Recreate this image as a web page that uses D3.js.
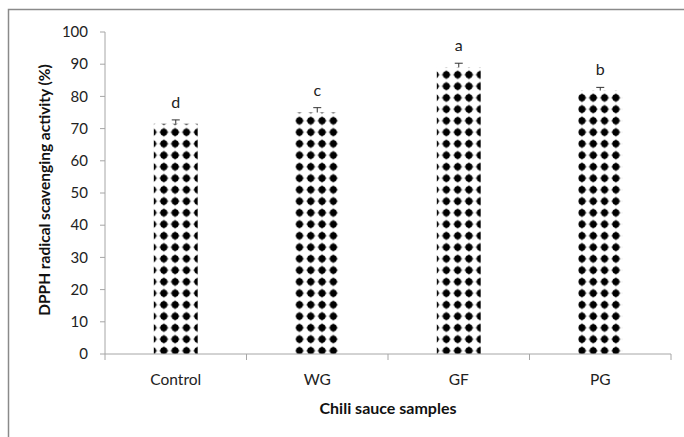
<!DOCTYPE html>
<html>
<head>
<meta charset="utf-8">
<script src="https://cdn.jsdelivr.net/npm/d3@7.9.0/dist/d3.min.js"></script>
<style>
  body { margin: 0; background: #fff; }
  text { font-family: Lato, "Open Sans", sans-serif; }
</style>
</head>
<body>
<svg id="chart" width="684" height="437"></svg>
<script>
// data
const samples = ['Control', 'WG', 'GF', 'PG'];
const activity = [71.5, 75.0, 89.0, 81.8];
const errors = [1.2, 1.5, 1.3, 1.0];
const letters = ['d', 'c', 'a', 'b'];
const yTicks = [0, 10, 20, 30, 40, 50, 60, 70, 80, 90, 100];

const svg = d3.select('#chart');

// outer frame (runs off the right / bottom edge like the source)
svg.append('rect')
  .attr('x', 8.5).attr('y', 9.5)
  .attr('width', 700).attr('height', 460)
  .attr('fill', 'none').attr('stroke', '#8a8a8a').attr('stroke-width', 1.5);

const plotLeft = 105, plotRight = 671, plotTop = 32, plotBottom = 354;

let x = d3.scaleBand().domain(samples).range([plotLeft, plotRight]).paddingInner(0.69).paddingOuter(0.345);
let y = d3.scaleLinear().domain([0, 100]).range([plotBottom, plotTop]);

// dotted fill pattern
const defs = svg.append('defs');
const pat = defs.append('pattern')
  .attr('id', 'dots')
  .attr('patternUnits', 'userSpaceOnUse')
  .attr('width', 11.3).attr('height', 11.5);
pat.append('rect').attr('width', 11.3).attr('height', 11.5).attr('fill', '#fff');
pat.append('circle').attr('cx', 5.65).attr('cy', 5.75).attr('r', 3.5).attr('fill', '#000');
pat.append('path')
  .attr('d', 'M5.65,0.6 L7.2,5.75 L5.65,10.9 L4.1,5.75 Z M0.5,5.75 L5.65,4.2 L10.8,5.75 L5.65,7.3 Z')
  .attr('fill', '#000');

// y axis
svg.append('line')
  .attr('x1', plotLeft).attr('x2', plotLeft).attr('y1', plotTop).attr('y2', plotBottom + 6)
  .attr('stroke', '#a6a6a6');
yTicks.forEach((t) => {
  svg.append('line')
    .attr('x1', plotLeft - 5).attr('x2', plotLeft)
    .attr('y1', y(t)).attr('y2', y(t))
    .attr('stroke', '#a6a6a6');
  svg.append('text')
    .attr('x', plotLeft - 17).attr('y', y(t))
    .attr('dy', '0.35em').attr('text-anchor', 'end')
    .attr('font-size', 15).attr('fill', '#222')
    .text(t);
});

// bars
samples.forEach((s, i) => {
  svg.append('rect')
    .attr('x', x(s)).attr('y', y(activity[i]))
    .attr('width', x.bandwidth()).attr('height', plotBottom - y(activity[i]))
    .attr('fill', 'url(#dots)');

  // error bar (upper half only)
  let cx = x(s) + x.bandwidth() / 2;
  let yTop = y(activity[i] + errors[i]);
  svg.append('line')
    .attr('x1', cx).attr('x2', cx).attr('y1', y(activity[i])).attr('y2', yTop)
    .attr('stroke', '#333');
  svg.append('line')
    .attr('x1', cx - 4).attr('x2', cx + 4).attr('y1', yTop).attr('y2', yTop)
    .attr('stroke', '#333');

  svg.append('text')
    .attr('x', cx).attr('y', yTop - 12)
    .attr('text-anchor', 'middle')
    .attr('font-size', 16).attr('fill', '#222')
    .text(letters[i]);
});

// x axis
svg.append('line')
  .attr('x1', plotLeft).attr('x2', plotRight).attr('y1', plotBottom).attr('y2', plotBottom)
  .attr('stroke', '#a6a6a6');
const step = x.step();
for (let k = 1; k <= samples.length; k++) {
  let tx = plotLeft + k * step;
  svg.append('line')
    .attr('x1', tx).attr('x2', tx).attr('y1', plotBottom).attr('y2', plotBottom + 6)
    .attr('stroke', '#a6a6a6');
}
samples.forEach((s) => {
  svg.append('text')
    .attr('x', x(s) + x.bandwidth() / 2).attr('y', 385)
    .attr('text-anchor', 'middle')
    .attr('font-size', 15.5).attr('fill', '#222')
    .text(s);
});

// titles
svg.append('text')
  .attr('x', 388).attr('y', 414)
  .attr('text-anchor', 'middle')
  .attr('font-size', 16).attr('font-weight', 'bold').attr('fill', '#111')
  .text('Chili sauce samples');

svg.append('text')
  .attr('transform', 'translate(50,190) rotate(-90)')
  .attr('text-anchor', 'middle')
  .attr('font-size', 15.5).attr('font-weight', 'bold').attr('fill', '#111')
  .text('DPPH radical scavenging activity (%)');
</script>
</body>
</html>
